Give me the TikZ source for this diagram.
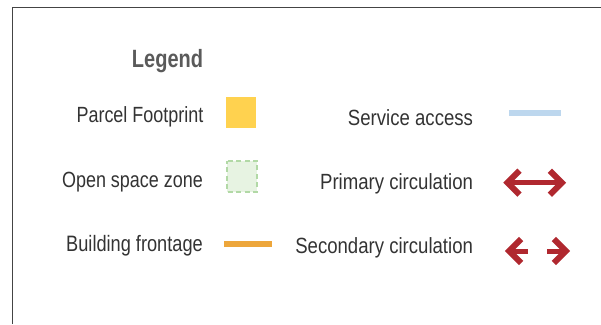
\documentclass[tikz,border=0pt]{standalone}
\usepackage{fontspec}
\setmainfont[FakeStretch=0.845]{Liberation Sans}
\newfontfamily\titlefont[FakeStretch=0.8]{Liberation Sans}
\newfontfamily\leftfont[FakeStretch=0.816]{Liberation Sans}
\definecolor{txt}{HTML}{333333}
\definecolor{legendgray}{HTML}{5A5A5A}
\definecolor{frame}{HTML}{444444}
\definecolor{parcel}{HTML}{FFD24F}
\definecolor{openfill}{HTML}{E7F3E2}
\definecolor{opendraw}{HTML}{B2D9A6}
\definecolor{frontage}{HTML}{EDA63B}
\definecolor{service}{HTML}{BDD7EE}
\definecolor{circ}{HTML}{B0282F}
\tikzset{
  label/.style={anchor=base east,inner sep=0pt,text=txt,font=\fontsize{22}{24}\selectfont},
  leftlabel/.style={label,font=\leftfont\fontsize{22}{24}\selectfont},
  title/.style={anchor=base,inner sep=0pt,text=legendgray,font=\titlefont\fontsize{25}{28}\selectfont\bfseries},
  chev/.style={draw=circ,line width=6pt,miter limit=10},
  shaft/.style={draw=circ,line width=5pt}
}
\begin{document}
\begin{tikzpicture}[x=1pt,y=-1pt]
\useasboundingbox (0,0) rectangle (601,324);
% frame
\draw[frame,line width=1pt] (12.3,324) -- (12.3,7.3) -- (601,7.3);
% title
\node[title] (legend) at (167.5,67.5) {Legend};
% labels
\node[leftlabel] (lparcel) at (203.5,122.3) {Parcel Footprint};
\node[leftlabel] (lopen) at (203,187) {Open space zone};
\node[leftlabel,font=\leftfont\fontsize{22.3}{24}\selectfont] (lfront) at (203,251.3) {Building frontage};
\node[label] (lserv) at (473.2,125) {Service access};
\node[label] (lprim) at (473.2,189.3) {Primary circulation};
\node[label] (lsec) at (473.2,253.7) {Secondary circulation};
% symbols
\fill[parcel] (226,97) rectangle (256,128);
\draw[fill=openfill,draw=opendraw,line width=2pt,dash pattern=on 5pt off 3.5pt,dash phase=2pt] (226.5,160.5) rectangle (257,191.5);
\draw[frontage,line width=6pt] (224,243.7) -- (272,243.7);
\draw[service,line width=6pt] (509,113.3) -- (561,113.3);
% primary circulation
\coordinate (p1) at (507.5,182.7);
\coordinate (p2) at (561.8,182.7);
\draw[shaft] (p1) -- (p2);
\draw[chev] (519.5,170.7) -- (p1) -- (519.5,194.7);
\draw[chev] (549.8,170.7) -- (p2) -- (549.8,194.7);
% secondary circulation
\coordinate (s1) at (509.2,251);
\coordinate (s1e) at (528,251);
\coordinate (s2) at (565.8,251);
\coordinate (s2e) at (547,251);
\draw[shaft] (s1) -- (s1e);
\draw[shaft] (s2e) -- (s2);
\draw[chev] (521.2,239) -- (s1) -- (521.2,263);
\draw[chev] (553.8,239) -- (s2) -- (553.8,263);
\end{tikzpicture}
\end{document}
